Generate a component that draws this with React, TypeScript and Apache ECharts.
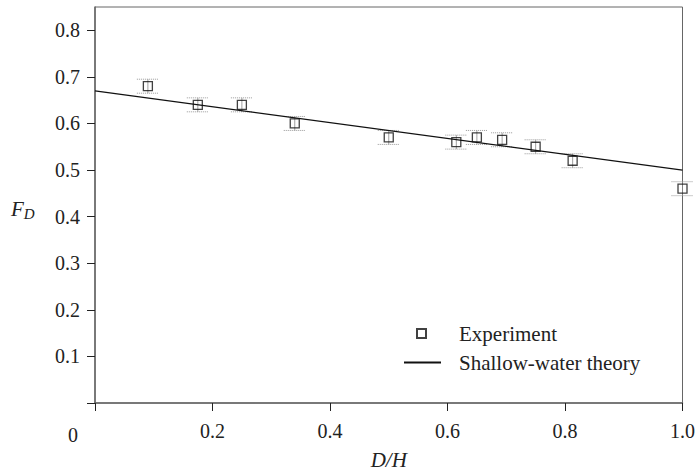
import React, { useEffect, useRef } from "react";
import * as echarts from "echarts";

const xValues = [0.09, 0.175, 0.25, 0.34, 0.5, 0.615, 0.65, 0.693, 0.75, 0.813, 1.0];
const yValues = [0.68, 0.64, 0.64, 0.6, 0.57, 0.56, 0.57, 0.565, 0.55, 0.52, 0.46];
const yErrors = [0.015, 0.015, 0.015, 0.015, 0.015, 0.015, 0.015, 0.015, 0.015, 0.015, 0.015];
const theoryX = [0, 1];
const theoryY = [0.67, 0.5];
const yTicks = [0, 0.1, 0.2, 0.3, 0.4, 0.5, 0.6, 0.7, 0.8];
const yTickLabels = [0.1, 0.2, 0.3, 0.4, 0.5, 0.6, 0.7, 0.8];
const xTickLabels = [0.2, 0.4, 0.6, 0.8, 1.0];

const FONT = "Liberation Serif";
const TEXT = "#222";

export default function App() {
  const ref = useRef<HTMLDivElement>(null);
  useEffect(() => {
    document.body.style.margin = "0";
    if (!ref.current) return;
    const chart = echarts.init(ref.current, null, { renderer: "svg" });
    const expData = xValues.map((x, i) => [x, yValues[i]]);
    const errData = xValues.map((x, i) => [x, yValues[i] - yErrors[i], yValues[i] + yErrors[i]]);
    const theoryData = theoryX.map((x, i) => [x, theoryY[i]]);
    chart.setOption({
      animation: false,
      grid: {
        left: 95,
        right: 14,
        top: 7,
        bottom: 67,
        show: true,
        borderColor: "#666",
        borderWidth: 1,
      },
      xAxis: {
        type: "value",
        min: 0,
        max: 1,
        interval: 0.2,
        splitLine: { show: false },
        axisLine: { show: true, lineStyle: { color: "#666", width: 1.5 } },
        axisTick: { show: true, length: 8, lineStyle: { color: "#222" } },
        axisLabel: {
          customValues: xTickLabels,
          formatter: (v: number) => v.toFixed(1),
          margin: 18,
          fontFamily: FONT,
          fontSize: 20,
          color: TEXT,
        },
        name: "D/H",
        nameLocation: "middle",
        nameGap: 46,
        nameTextStyle: { fontFamily: FONT, fontSize: 21, fontStyle: "italic", color: TEXT },
      },
      yAxis: {
        type: "value",
        min: 0,
        max: 0.85,
        splitLine: { show: false },
        axisLine: { show: true, lineStyle: { color: "#666", width: 1.5 } },
        axisTick: { show: true, length: 8, customValues: yTicks, lineStyle: { color: "#222" } },
        axisLabel: {
          customValues: yTickLabels,
          formatter: (v: number) => v.toFixed(1),
          margin: 15,
          fontFamily: FONT,
          fontSize: 20,
          color: TEXT,
        },
      },
      legend: [
        {
          data: ["Experiment"],
          left: 411,
          top: 318,
          itemWidth: 9,
          itemHeight: 9,
          selectedMode: false,
          textStyle: { fontFamily: FONT, fontSize: 21, color: TEXT, padding: [0, 0, 0, 28] },
        },
        {
          data: ["Shallow-water theory"],
          left: 398,
          top: 347,
          itemWidth: 37,
          itemHeight: 9,
          selectedMode: false,
          itemStyle: { opacity: 0 },
          textStyle: { fontFamily: FONT, fontSize: 21, color: TEXT, padding: [0, 0, 0, 13] },
        },
      ],
      graphic: [
        {
          type: "text",
          x: 73,
          y: 435,
          style: { text: "0", fontFamily: FONT, fontSize: 20, fill: TEXT, textAlign: "center", textVerticalAlign: "middle" },
        },
        {
          type: "text",
          x: 11,
          y: 210,
          style: {
            text: "{f|F}{d|D}",
            textVerticalAlign: "middle",
            rich: {
              f: { fontFamily: FONT, fontSize: 21, fontStyle: "italic", fill: TEXT, verticalAlign: "top" },
              d: { fontFamily: FONT, fontSize: 15, fontStyle: "italic", fill: TEXT, padding: [8, 0, 0, 0] },
            },
          },
        },
      ],
      series: [
        {
          name: "errors",
          type: "custom",
          data: errData,
          silent: true,
          z: 1,
          renderItem: (params: any, api: any) => {
            const x = api.value(0);
            const lo = api.coord([x, api.value(1)]);
            const hi = api.coord([x, api.value(2)]);
            const hw = 11;
            const style = { stroke: "#888", lineWidth: 0.8 };
            const capStyle = { stroke: "#999", lineWidth: 1, lineDash: [1, 1] };
            return {
              type: "group",
              children: [
                { type: "line", shape: { x1: lo[0], y1: lo[1], x2: hi[0], y2: hi[1] }, style },
                { type: "line", shape: { x1: lo[0] - hw, y1: lo[1], x2: lo[0] + hw, y2: lo[1] }, style: capStyle },
                { type: "line", shape: { x1: hi[0] - hw, y1: hi[1], x2: hi[0] + hw, y2: hi[1] }, style: capStyle },
              ],
            };
          },
        },
        {
          name: "Shallow-water theory",
          type: "line",
          data: theoryData,
          symbol: "none",
          lineStyle: { color: "#111", width: 1.3 },
          itemStyle: { color: "#111" },
          z: 2,
        },
        {
          name: "Experiment",
          type: "scatter",
          data: expData,
          symbol: "rect",
          symbolSize: 9,
          itemStyle: { color: "rgba(255,255,255,0)", borderColor: "#111", borderWidth: 1.3 },
          z: 3,
        },
      ],
    });
    return () => chart.dispose();
  }, []);
  return <div ref={ref} style={{ width: 698, height: 475 }} />;
}
